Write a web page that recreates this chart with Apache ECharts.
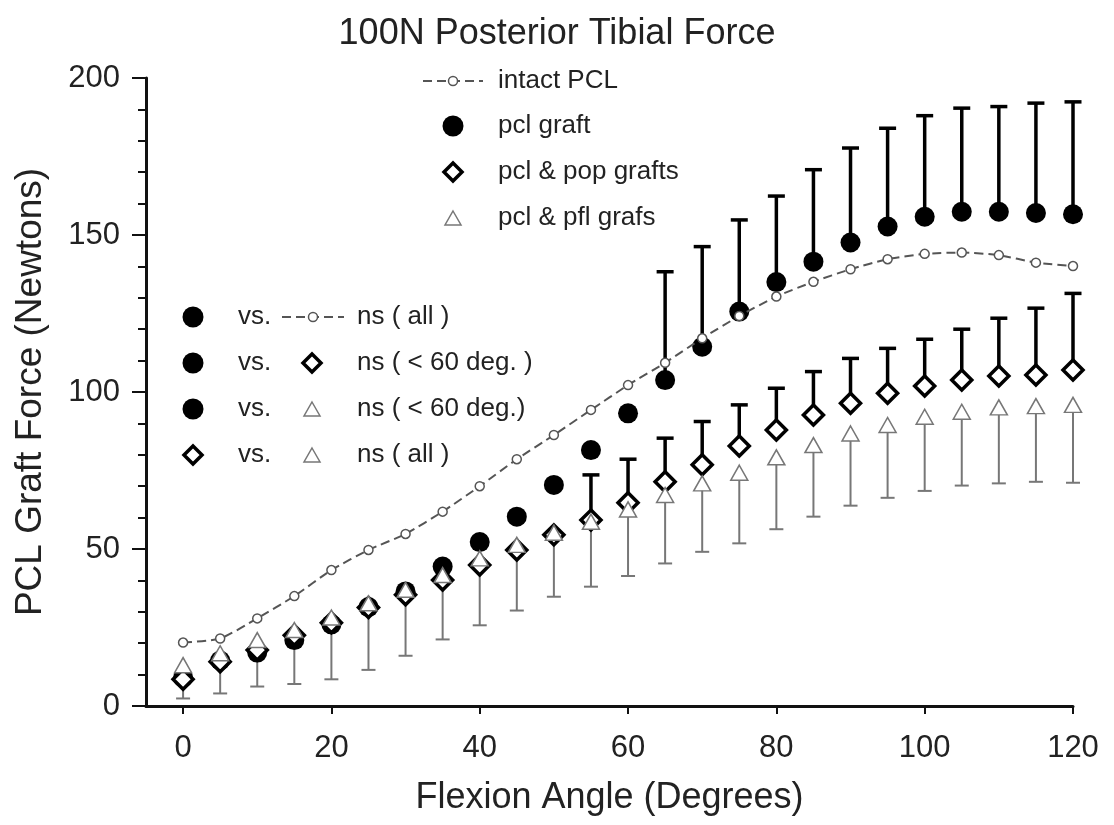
<!DOCTYPE html>
<html>
<head>
<meta charset="utf-8">
<title>100N Posterior Tibial Force</title>
<script src="https://cdn.jsdelivr.net/npm/echarts@6/dist/echarts.min.js"></script>
<style>
  html, body { margin: 0; padding: 0; background: #fff; }
  #chart { width: 1114px; height: 825px; }
</style>
</head>
<body>
<div id="chart"></div>
<script>
// flexion angles (degrees)
var angles = [0, 5, 10, 15, 20, 25, 30, 35, 40, 45, 50, 55, 60, 65, 70, 75, 80, 85, 90, 95, 100, 105, 110, 115, 120];
var xTicks = [0, 20, 40, 60, 80, 100, 120];

// mean graft forces (N)
var intactPCL = [20.2, 21.5, 27.9, 35, 43.3, 49.7, 54.8, 61.9, 70, 78.6, 86.3, 94.3, 102.2, 109.3, 117.1, 124.2, 130.4, 135.1, 139.1, 142.3, 144, 144.4, 143.6, 141.2, 140.1];
var pclGraft = [9, 14.5, 17, 21, 26, 31.5, 36.5, 44.4, 52.2, 60.3, 70.4, 81.5, 93.2, 103.8, 114.4, 125.6, 135, 141.5, 147.6, 152.7, 155.8, 157.4, 157.4, 157, 156.6];
var pclPopGrafts = [8.5, 14.1, 17.8, 22.5, 26.5, 31.4, 35.4, 40.1, 44.9, 49.7, 54.5, 59.2, 64.7, 71.4, 76.8, 82.8, 87.9, 92.7, 96.4, 99.6, 101.9, 103.8, 105.1, 105.4, 107];
var pclPflGrafts = [13, 16.8, 21, 24.2, 28.2, 32.7, 37, 41.7, 47, 51.3, 55.2, 58.7, 62.6, 67.2, 70.9, 74.3, 79.2, 83.1, 86.8, 89.5, 92.1, 93.7, 95.1, 95.5, 95.9];

// error bar ends (mean + SD up, or mean - SD down); null = no bar drawn
var pclGraftUpper = [null, null, null, null, null, null, null, null, null, null, null, null, null, 138.3, 146.3, 154.8, 162.4, 170.8, 177.7, 184, 188, 190.4, 190.9, 192, 192.4];
var pclPopUpper = [null, null, null, null, null, null, null, null, null, null, null, 73.6, 78.6, 85.3, 90.6, 95.9, 101.2, 106.5, 110.7, 113.9, 116.8, 120, 123.5, 126.7, 131.4];
var pclPflLower = [2.4, 4, 6.2, 7, 8.5, 11.5, 16, 21.2, 25.7, 30.4, 34.8, 38, 41.4, 45.4, 49.1, 51.8, 56.3, 60.3, 63.8, 66.3, 68.5, 70.2, 70.9, 71.4, 71.1];

var FONT = '"Liberation Sans", Arial, sans-serif';

function pairs(vals) {
  return angles.map(function (a, i) { return [a, vals[i]]; });
}

function errData(mean, bound) {
  var out = [];
  angles.forEach(function (a, i) {
    if (bound[i] != null) out.push([a, mean[i], bound[i]]);
  });
  return out;
}

function errBar(color, width, cap) {
  return function (params, api) {
    var x = api.value(0);
    var p0 = api.coord([x, api.value(1)]);
    var p1 = api.coord([x, api.value(2)]);
    var st = { stroke: color, lineWidth: width };
    return {
      type: 'group',
      children: [
        { type: 'line', shape: { x1: p0[0], y1: p0[1], x2: p1[0], y2: p1[1] }, style: st },
        { type: 'line', shape: { x1: p1[0] - cap / 2, y1: p1[1], x2: p1[0] + cap / 2, y2: p1[1] }, style: st }
      ]
    };
  };
}

// little legend / annotation glyphs
function dot(x, y) {
  return { type: 'circle', shape: { cx: x, cy: y, r: 10.5 }, style: { fill: '#000' } };
}
function diamond(x, y) {
  return { type: 'polygon', shape: { points: [[x, y - 9], [x + 9, y], [x, y + 9], [x - 9, y]] }, style: { fill: '#fff', stroke: '#000', lineWidth: 3.5 } };
}
function tri(x, y) {
  return { type: 'polygon', shape: { points: [[x, y - 7], [x + 8, y + 7], [x - 8, y + 7]] }, style: { fill: '#fff', stroke: '#777', lineWidth: 1.5 } };
}
function dashedKey(x1, x2, y) {
  var mid = (x1 + x2) / 2;
  return [
    { type: 'line', shape: { x1: x1, y1: y, x2: x2, y2: y }, style: { stroke: '#555', lineWidth: 2, lineDash: [9, 5] } },
    { type: 'circle', shape: { cx: mid, cy: y, r: 4.5 }, style: { fill: '#fff', stroke: '#555', lineWidth: 1.5 } }
  ];
}
function label(x, y, t) {
  return { type: 'text', style: { x: x, y: y, text: t, font: '26px ' + FONT, fill: '#222', verticalAlign: 'middle' } };
}

var graphics = [];
// key at the top
graphics = graphics.concat(dashedKey(423, 483, 81));
graphics.push(label(498, 81, 'intact PCL'));
graphics.push(dot(453, 126), label(498, 126, 'pcl graft'));
graphics.push(diamond(453, 172), label(498, 172, 'pcl & pop grafts'));
graphics.push(tri(453, 218), label(498, 218, 'pcl & pfl grafs'));
// comparisons block
graphics.push(dot(193, 317), label(238, 317, 'vs.'));
graphics = graphics.concat(dashedKey(282, 344, 317));
graphics.push(label(357, 317, 'ns ( all )'));
graphics.push(dot(193, 363), label(238, 363, 'vs.'), diamond(312, 363), label(357, 363, 'ns ( < 60 deg. )'));
graphics.push(dot(193, 409), label(238, 409, 'vs.'), tri(312, 409), label(357, 409, 'ns ( < 60 deg.)'));
graphics.push(diamond(193, 455), label(238, 455, 'vs.'), tri(312, 455), label(357, 455, 'ns ( all )'));

var chart = echarts.init(document.getElementById('chart'));

var option = {
  animation: false,
  backgroundColor: '#fff',
  title: {
    text: '100N Posterior Tibial Force',
    left: 'center',
    top: 11,
    textStyle: { fontFamily: FONT, fontSize: 36, fontWeight: 'normal', color: '#222' }
  },
  grid: { left: 146, right: 41, top: 78, bottom: 119 },
  xAxis: {
    type: 'value',
    min: -5,
    max: 120,
    name: 'Flexion Angle (Degrees)',
    nameLocation: 'middle',
    nameGap: 74,
    nameTextStyle: { fontFamily: FONT, fontSize: 36, color: '#222' },
    axisLine: { lineStyle: { color: '#111', width: 3 } },
    axisTick: { show: true, length: 8, lineStyle: { color: '#111', width: 2 }, customValues: xTicks },
    axisLabel: { customValues: xTicks, margin: 27, fontFamily: FONT, fontSize: 31, color: '#222' },
    splitLine: { show: false }
  },
  yAxis: {
    type: 'value',
    min: 0,
    max: 200,
    interval: 50,
    name: 'PCL Graft Force (Newtons)',
    nameLocation: 'middle',
    nameGap: 97,
    nameTextStyle: { fontFamily: FONT, fontSize: 37, color: '#222' },
    axisLine: { show: true, onZero: false, lineStyle: { color: '#111', width: 3 } },
    axisTick: { show: true, length: 14, lineStyle: { color: '#111', width: 2 } },
    minorTick: { show: true, splitNumber: 5, length: 8, lineStyle: { color: '#111', width: 2 } },
    axisLabel: { margin: 26, fontFamily: FONT, fontSize: 31, color: '#222' },
    splitLine: { show: false }
  },
  graphic: graphics,
  series: [
    {
      name: 'pcl & pfl grafs SD',
      type: 'custom',
      renderItem: errBar('#777', 2, 14),
      encode: { x: 0, y: [1, 2] },
      data: errData(pclPflGrafts, pclPflLower),
      silent: true
    },
    {
      name: 'pcl & pop grafts SD',
      type: 'custom',
      renderItem: errBar('#000', 3.5, 17),
      encode: { x: 0, y: [1, 2] },
      data: errData(pclPopGrafts, pclPopUpper),
      silent: true
    },
    {
      name: 'pcl graft SD',
      type: 'custom',
      renderItem: errBar('#000', 3.5, 17),
      encode: { x: 0, y: [1, 2] },
      data: errData(pclGraft, pclGraftUpper),
      silent: true
    },
    {
      name: 'intact PCL',
      type: 'line',
      data: pairs(intactPCL),
      smooth: 0.2,
      symbol: 'circle',
      symbolSize: 9,
      showAllSymbol: true,
      lineStyle: { color: '#555', width: 2, type: [9, 5] },
      itemStyle: { color: '#fff', borderColor: '#555', borderWidth: 1.5, opacity: 1 }
    },
    {
      name: 'pcl graft',
      type: 'scatter',
      data: pairs(pclGraft),
      symbol: 'circle',
      symbolSize: 20,
      itemStyle: { color: '#000', opacity: 1 }
    },
    {
      name: 'pcl & pop grafts',
      type: 'scatter',
      data: pairs(pclPopGrafts),
      symbol: 'diamond',
      symbolSize: 20,
      itemStyle: { color: '#fff', borderColor: '#000', borderWidth: 3.5, opacity: 1 }
    },
    {
      name: 'pcl & pfl grafs',
      type: 'scatter',
      data: pairs(pclPflGrafts),
      symbol: 'triangle',
      symbolSize: [17, 15],
      itemStyle: { color: '#fff', borderColor: '#777', borderWidth: 1.5, opacity: 1 }
    }
  ]
};

chart.setOption(option);
</script>
</body>
</html>
